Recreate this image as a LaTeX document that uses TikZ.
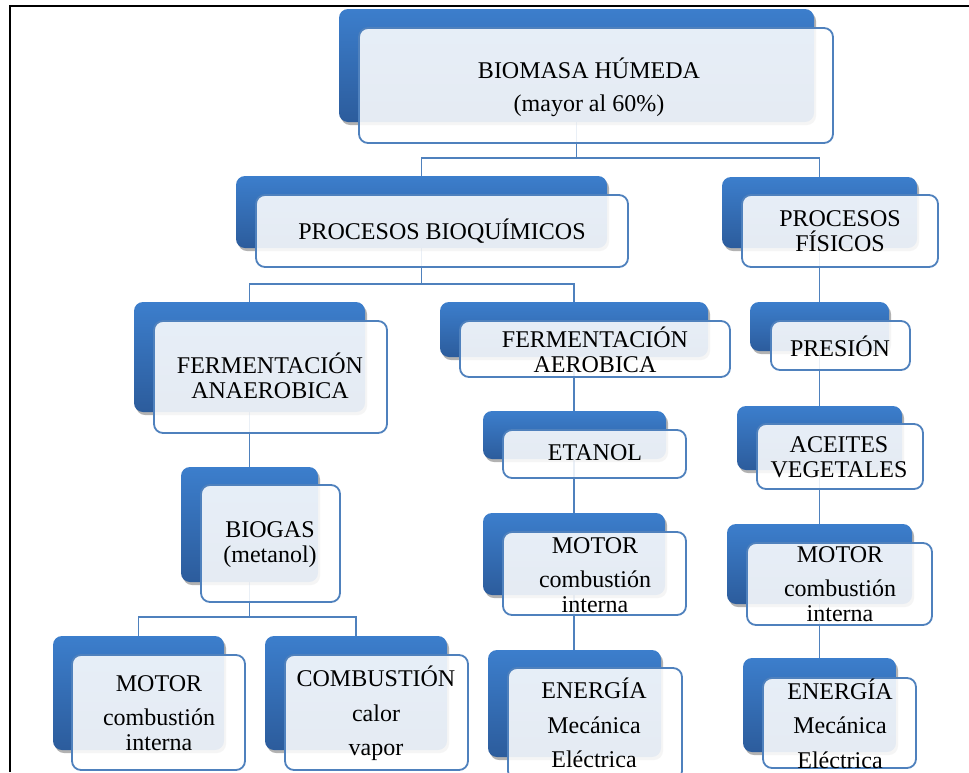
\documentclass[tikz,border=0pt]{standalone}
\usepackage{fontspec}
\setmainfont{Liberation Serif}
\usetikzlibrary{shadows}
\definecolor{bkA}{RGB}{60,126,204}
\definecolor{bkB}{RGB}{44,92,156}
\definecolor{fr}{RGB}{79,129,189}
\pgfdeclarelayer{bg}
\pgfsetlayers{bg,main}
\tikzset{
  backbox/.style={rectangle, rounded corners=9pt, inner sep=0pt, top color=bkA, bottom color=bkB, draw=none,
    drop shadow={shadow xshift=2pt, shadow yshift=-3pt, opacity=0.3, fill=black}},
  frontbox/.style={rectangle, rounded corners=9pt, inner sep=0pt, draw=fr, line width=1.8pt, fill=white, fill opacity=0.88},
  txt/.style={align=center, inner sep=0pt, font=\fontsize{24}{25}\selectfont, text=black},
  link/.style={draw=fr, line width=1.8pt}
}
\newcommand\itembox[9]{%
  \node[backbox, minimum width={#4pt-#2pt}, minimum height={#5pt-#3pt}] (#1) at ({(#2+#4)/2},{(#3+#5)/2}) {};
  \node[frontbox, minimum width={#8pt-#6pt}, minimum height={#9pt-#7pt}] (#1f) at ({(#6+#8)/2},{(#7+#9)/2}) {};
}
\begin{document}
\begin{tikzpicture}[x=1pt,y=-1pt]
\useasboundingbox (0,0) rectangle (969,772);

\itembox{bio}{339}{9}{814}{122}{359}{28}{833}{143}
\itembox{pbq}{236}{176}{607}{248}{256}{195}{628}{267}
\itembox{pfi}{722}{177}{917}{248}{742}{195}{938}{267}
\itembox{pre}{750}{302}{889}{351}{771}{321}{910}{370}
\itembox{fan}{134}{302}{365}{412}{154}{321}{387}{433}
\itembox{fae}{440}{302}{708}{357}{460}{321}{730}{377}
\itembox{eta}{483}{411}{666}{459}{503}{430}{686}{478}
\itembox{ace}{737}{406}{902}{470}{757}{424}{923}{489}
\itembox{bgs}{181}{467}{318}{582}{201}{485}{340}{602}
\itembox{mom}{483}{513}{665}{595}{503}{532}{686}{615}
\itembox{mor}{727}{524}{912}{604}{747}{543}{932}{625}
\itembox{mol}{53}{636}{224}{750}{72}{655}{245}{770}
\itembox{com}{265}{636}{447}{750}{285}{655}{468}{770}
\itembox{enm}{488}{650}{661}{757}{508}{668}{682}{780}
\itembox{enr}{743}{658}{896}{752}{763}{678}{916}{768}

\begin{pgfonlayer}{bg}
\fill[white] (0,0) rectangle (969,772);
\draw[line width=2pt] (10,772) -- (10,6) -- (969,6);
\draw[link] (bio.south) -- (bio.south |- 0,158) -| (pbq.north);
\draw[link] (bio.south) -- (bio.south |- 0,158) -| (pfi.north);
\draw[link] (pbq.south) -- (pbq.south |- 0,284) -| (fan.north);
\draw[link] (pbq.south) -- (pbq.south |- 0,284) -| (fae.north);
\draw[link] (pfi.south) -- (pfi.south |- pre.north);
\draw[link] (pre.south) -- (pre.south |- ace.north);
\draw[link] (ace.south) -- (ace.south |- mor.north);
\draw[link] (mor.south) -- (mor.south |- enr.north);
\draw[link] (fae.south) -- (fae.south |- eta.north);
\draw[link] (fae.south |- eta.south) -- (fae.south |- mom.north);
\draw[link] (fae.south |- mom.south) -- (fae.south |- enm.north);
\draw[link] (fan.south) -- (fan.south |- bgs.north);
\draw[link] (bgs.south) -- (bgs.south |- 0,617) -| (mol.north);
\draw[link] (bgs.south) -- (bgs.south |- 0,617) -| (com.north);
\end{pgfonlayer}

\node[txt] (tbio) at (589,87) {BIOMASA HÚMEDA\\[8pt](mayor al 60\%)};
\node[txt] (tpbq) at (442,231) {PROCESOS BIOQUÍMICOS};
\node[txt] (tpfi) at (840,231) {PROCESOS\\FÍSICOS};
\node[txt] (tpre) at (840,346) {PRESIÓN};
\node[txt] (tfan) at (270,376) {FERMENTACIÓN\\ANAEROBICA};
\node[txt] (tfae) at (595,350) {FERMENTACIÓN\\AEROBICA};
\node[txt] (teta) at (595,453) {ETANOL};
\node[txt] (tace) at (839,457) {ACEITES\\VEGETALES};
\node[txt] (tbgs) at (270,545) {BIOGAS\\(metanol)};
\node[txt] (tmom) at (595,575) {MOTOR\\[9pt]combustión\\interna};
\node[txt] (tmor) at (840,584) {MOTOR\\[9pt]combustión\\interna};
\node[txt] (tmol) at (159,713) {MOTOR\\[9pt]combustión\\interna};
\node[txt] (tcom) at (376,713) {COMBUSTIÓN\\[10pt]calor\\[9pt]vapor};
\node[txt] (tenm) at (594,723) {ENERGÍA\\[10pt]Mecánica\\[9pt]Eléctrica};
\node[txt] (tenr) at (840,724) {ENERGÍA\\[9pt]Mecánica\\[10pt]Eléctrica};
\end{tikzpicture}
\end{document}
